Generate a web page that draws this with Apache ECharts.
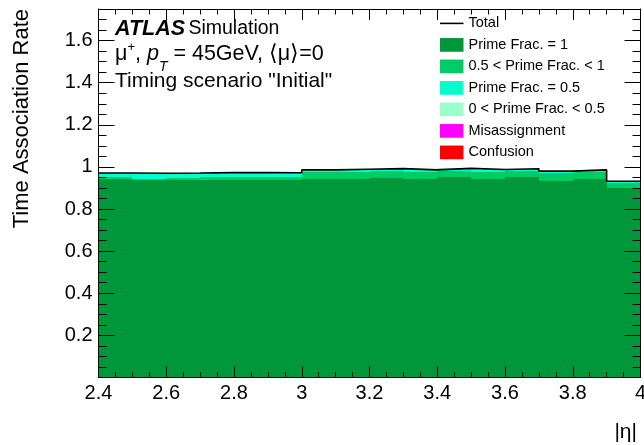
<!DOCTYPE html>
<html>
<head>
<meta charset="utf-8">
<script src="https://cdn.jsdelivr.net/npm/echarts@6/dist/echarts.min.js"></script>
<style>
  html, body { margin: 0; padding: 0; background: #ffffff; }
  #chart { width: 644px; height: 445px; }
</style>
</head>
<body>
<div id="chart"></div>
<script>
// |eta| bin edges, 0.1 wide
const binEdges = [2.4, 2.5, 2.6, 2.7, 2.8, 2.9, 3.0, 3.1, 3.2, 3.3, 3.4, 3.5, 3.6, 3.7, 3.8, 3.9, 4.0];

// Time association rate per bin, split by prime fraction category
const primeFracOne   = [0.945, 0.936, 0.938, 0.940, 0.939, 0.938, 0.943, 0.945, 0.948, 0.942, 0.950, 0.942, 0.950, 0.932, 0.945, 0.901];
const primeFracAbove = [0.007, 0.006, 0.010, 0.010, 0.012, 0.014, 0.032, 0.033, 0.034, 0.034, 0.032, 0.036, 0.031, 0.038, 0.031, 0.022];
const primeFracHalf  = [0.017, 0.026, 0.021, 0.021, 0.020, 0.018, 0.009, 0.009, 0.008, 0.008, 0.009, 0.008, 0.008, 0.009, 0.008, 0.008];
const primeFracBelow = [0.002, 0.002, 0.002, 0.002, 0.002, 0.002, 0.002, 0.002, 0.002, 0.002, 0.002, 0.002, 0.002, 0.001, 0.002, 0.001];
const misassignment  = [0, 0, 0, 0, 0, 0, 0, 0, 0, 0, 0, 0, 0, 0, 0, 0];
const confusion      = [0, 0, 0, 0, 0, 0, 0, 0, 0, 0, 0, 0, 0, 0, 0, 0];

// Tick labels
const xTickValues = [2.4, 2.6, 2.8, 3.0, 3.2, 3.4, 3.6, 3.8, 4.0];
const xTickLabels = ['2.4', '2.6', '2.8', '3', '3.2', '3.4', '3.6', '3.8', '4'];
const yTickValues = [0.2, 0.4, 0.6, 0.8, 1.0, 1.2, 1.4, 1.6];
const yTickLabels = ['0.2', '0.4', '0.6', '0.8', '1', '1.2', '1.4', '1.6'];

const layers = [
  { name: 'Prime Frac. = 1',          values: primeFracOne,   color: '#00963a' },
  { name: '0.5 < Prime Frac. < 1',    values: primeFracAbove, color: '#00cc66' },
  { name: 'Prime Frac. = 0.5',        values: primeFracHalf,  color: '#00ffcc' },
  { name: '0 < Prime Frac. < 0.5',    values: primeFracBelow, color: '#99ffcc' },
  { name: 'Misassignment',            values: misassignment,  color: '#ff00ff' },
  { name: 'Confusion',                values: confusion,      color: '#ff0000' }
];

const FONT = '"Liberation Sans", Arial, Helvetica, sans-serif';

function lookupLabel(values, labels, v) {
  for (let i = 0; i < values.length; i++) {
    if (Math.abs(values[i] - v) < 1e-6) return labels[i];
  }
  return '';
}

// stacked rectangles: [x0, x1, base, top]
const running = binEdges.slice(0, -1).map(() => 0);
const layerSeries = layers.map(function (layer) {
  const data = layer.values.map(function (v, i) {
    const base = running[i];
    running[i] = base + v;
    return [binEdges[i], binEdges[i + 1], base, base + v];
  });
  return {
    type: 'custom',
    name: layer.name,
    xAxisIndex: 0,
    yAxisIndex: 0,
    z: 2,
    silent: true,
    itemStyle: { color: layer.color },
    encode: { x: [0, 1], y: [2, 3] },
    data: data,
    renderItem: function (params, api) {
      const topLeft = api.coord([api.value(0), api.value(3)]);
      const bottomRight = api.coord([api.value(1), api.value(2)]);
      const x0 = Math.round(topLeft[0]), x1 = Math.round(bottomRight[0]);
      const y0 = Math.round(topLeft[1]), y1 = Math.round(bottomRight[1]);
      return {
        type: 'rect',
        shape: { x: x0, y: y0, width: x1 - x0, height: y1 - y0 },
        style: { fill: api.visual('color') }
      };
    }
  };
});

// total outline as a step line across the bins
const totalLine = [];
running.forEach(function (t, i) {
  totalLine.push([binEdges[i], t]);
  totalLine.push([binEdges[i + 1], t]);
});

const axisLineStyle = { show: true, onZero: false, lineStyle: { color: '#000', width: 1 } };

function xAxisDef(position, withLabels) {
  return {
    type: 'value', position: position, min: 2.4, max: 4.0, interval: 0.2, z: 10,
    axisLine: axisLineStyle,
    axisTick: { show: true, inside: true, length: 11, lineStyle: { color: '#000', width: 1 } },
    minorTick: { show: true, splitNumber: 4, length: 5.5, lineStyle: { color: '#000', width: 1 } },
    splitLine: { show: false },
    axisLabel: {
      show: withLabels, margin: 6, color: '#000', fontSize: 20, fontFamily: FONT,
      formatter: function (v) { return lookupLabel(xTickValues, xTickLabels, v); }
    }
  };
}

function yMajorDef(position, withLabels) {
  return {
    type: 'value', position: position, min: 0, max: 1.75, interval: 0.2, z: 10,
    axisLine: axisLineStyle,
    axisTick: { show: true, inside: true, length: 16, lineStyle: { color: '#000', width: 1 } },
    splitLine: { show: false },
    axisLabel: {
      show: withLabels, margin: 6, color: '#000', fontSize: 20, fontFamily: FONT,
      showMaxLabel: false,
      formatter: function (v) { return lookupLabel(yTickValues, yTickLabels, v); }
    }
  };
}

function yMinorDef(position) {
  return {
    type: 'value', position: position, min: 0, max: 1.75, interval: 0.05, z: 10,
    axisLine: { show: false },
    axisTick: { show: true, inside: true, length: 8, lineStyle: { color: '#000', width: 1 } },
    splitLine: { show: false },
    axisLabel: { show: false }
  };
}

// Kinematics line with super- and subscripts, laid out piece by piece
const measureCtx = document.createElement('canvas').getContext('2d');
function textWidth(text, font) {
  measureCtx.font = font;
  return measureCtx.measureText(text).width;
}
const mainFont = '21.5px ' + FONT;
const italicFont = 'italic 21.5px ' + FONT;
const scriptFont = '13px ' + FONT;
const italicScriptFont = 'italic 14px ' + FONT;
const kinePieces = [
  { text: 'μ', font: mainFont, dy: 0 },
  { text: '+', font: scriptFont, dy: -7 },
  { text: ', ', font: mainFont, dy: 0 },
  { text: 'p', font: italicFont, dy: 0 },
  { text: 'T', font: italicScriptFont, dy: 13.5 },
  { text: ' = 45GeV, ⟨μ⟩=0', font: mainFont, dy: 0 }
];
const kineGraphics = [];
let kineX = 115;
kinePieces.forEach(function (p) {
  kineGraphics.push({
    type: 'text', x: kineX, y: 54 + p.dy, silent: true,
    style: { text: p.text, font: p.font, fill: '#000', align: 'left', verticalAlign: 'middle' }
  });
  kineX += textWidth(p.text, p.font);
});

const chart = echarts.init(document.getElementById('chart'), null, { renderer: 'canvas' });

chart.setOption({
  animation: false,
  backgroundColor: '#ffffff',
  textStyle: { fontFamily: FONT },
  grid: { left: 98.5, right: 3.5, top: 9, bottom: 67.5, outerBoundsMode: 'none' },
  xAxis: [xAxisDef('bottom', true), xAxisDef('top', false)],
  yAxis: [yMajorDef('left', true), yMinorDef('left'), yMajorDef('right', false), yMinorDef('right')],
  legend: {
    orient: 'vertical',
    left: 440,
    top: 15.9,
    padding: 0,
    itemWidth: 23.5,
    itemHeight: 13.7,
    itemGap: 6.5,
    selectedMode: false,
    textStyle: { fontSize: 14.5, lineHeight: 14, color: '#000', fontFamily: FONT },
    data: [
      { name: 'Total', icon: 'path://M0,0H150V10H0Z' },
      { name: 'Prime Frac. = 1', icon: 'rect' },
      { name: '0.5 < Prime Frac. < 1', icon: 'rect' },
      { name: 'Prime Frac. = 0.5', icon: 'rect' },
      { name: '0 < Prime Frac. < 0.5', icon: 'rect' },
      { name: 'Misassignment', icon: 'rect' },
      { name: 'Confusion', icon: 'rect' }
    ]
  },
  graphic: [
    {
      type: 'text', x: 22, y: 9, rotation: Math.PI / 2, silent: true,
      style: {
        text: 'Time Association Rate', fill: '#000', font: '22px ' + FONT,
        align: 'right', verticalAlign: 'middle'
      }
    },
    {
      type: 'text', x: 637, y: 432, silent: true,
      style: { text: '|η|', fill: '#000', font: '21px ' + FONT, align: 'right', verticalAlign: 'middle' }
    },
    {
      type: 'text', x: 115, y: 28.7, silent: true,
      style: {
        text: '{b|ATLAS} {n|Simulation}',
        verticalAlign: 'middle', align: 'left',
        rich: {
          b: { fontSize: 21.5, fontWeight: 'bold', fontStyle: 'italic', fontFamily: FONT, fill: '#000' },
          n: { fontSize: 19.5, fontFamily: FONT, fill: '#000' }
        }
      }
    },
    {
      type: 'text', x: 115, y: 81.2, silent: true,
      style: { text: 'Timing scenario "Initial"', fill: '#000', font: '21px ' + FONT, align: 'left', verticalAlign: 'middle' }
    }
  ].concat(kineGraphics),
  series: layerSeries.concat([{
    type: 'line',
    name: 'Total',
    xAxisIndex: 0,
    yAxisIndex: 0,
    z: 3,
    silent: true,
    symbol: 'none',
    showSymbol: false,
    color: '#000',
    lineStyle: { color: '#000', width: 1.6 },
    data: totalLine
  }])
});
</script>
</body>
</html>
